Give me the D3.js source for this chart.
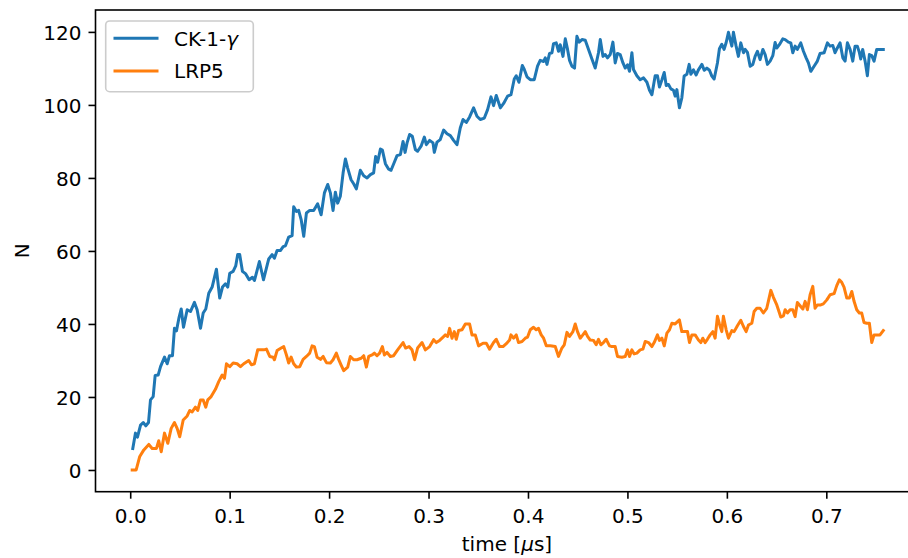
<!DOCTYPE html>
<html>
<head>
<meta charset="utf-8">
<script src="https://cdn.jsdelivr.net/npm/d3@7"></script>
<style>
  body { margin: 0; background: #fff; }
  svg { display: block; font-family: "DejaVu Sans", sans-serif; }
</style>
</head>
<body>
<svg id="chart" width="908" height="558"></svg>
<script>
// time [us] and N
const ckTime = [0.0026,0.0053,0.0073,0.0104,0.0131,0.0157,0.0184,0.0204,0.0231,0.0251,0.0281,0.0305,0.0345,0.0372,0.0395,0.0425,0.0445,0.0465,0.0492,0.0513,0.0536,0.0573,0.0606,0.0646,0.0673,0.0707,0.0734,0.076,0.079,0.0824,0.0867,0.09,0.0928,0.0958,0.0981,0.1001,0.1035,0.1061,0.1081,0.1101,0.1129,0.1162,0.1196,0.1229,0.1249,0.1276,0.1299,0.134,0.1393,0.1427,0.145,0.1477,0.151,0.1538,0.1561,0.1594,0.1628,0.1644,0.1671,0.1694,0.1719,0.1745,0.1772,0.1805,0.1845,0.1885,0.192,0.1953,0.1986,0.2013,0.204,0.2063,0.2086,0.2113,0.2141,0.2164,0.2187,0.2221,0.2247,0.2274,0.2314,0.2348,0.2382,0.2415,0.2448,0.2468,0.2488,0.2516,0.2536,0.2566,0.2599,0.2623,0.2656,0.2683,0.2717,0.2744,0.2764,0.2784,0.281,0.2837,0.2867,0.289,0.2925,0.2958,0.2978,0.3011,0.3045,0.3058,0.3085,0.3118,0.3152,0.3186,0.3219,0.3252,0.3286,0.3319,0.3347,0.338,0.3413,0.3453,0.3487,0.352,0.3561,0.3594,0.3628,0.3654,0.3681,0.3722,0.3755,0.3795,0.3829,0.3862,0.3882,0.3909,0.3943,0.3963,0.399,0.4023,0.4063,0.4096,0.4123,0.4157,0.4174,0.4191,0.4217,0.4241,0.4257,0.4284,0.4307,0.4324,0.4352,0.4375,0.4398,0.4418,0.4442,0.4468,0.4492,0.4515,0.4543,0.4576,0.4609,0.4643,0.4676,0.4709,0.4727,0.4754,0.4777,0.48,0.4827,0.4854,0.4877,0.49,0.4927,0.4955,0.4978,0.5001,0.5021,0.5045,0.5061,0.5095,0.5128,0.5162,0.5196,0.5222,0.5246,0.5279,0.5302,0.5322,0.5347,0.537,0.539,0.5413,0.5437,0.5463,0.548,0.5497,0.5523,0.5547,0.557,0.5598,0.5621,0.5638,0.5664,0.5691,0.5714,0.5749,0.5772,0.5799,0.5825,0.5849,0.5872,0.5905,0.5925,0.5949,0.5972,0.5993,0.6016,0.6033,0.605,0.6066,0.6093,0.6116,0.614,0.6167,0.6184,0.6207,0.6234,0.6261,0.6284,0.6307,0.6334,0.6362,0.6385,0.6408,0.6435,0.6462,0.6485,0.6502,0.6528,0.6563,0.6586,0.6619,0.6643,0.6663,0.6686,0.6709,0.6743,0.677,0.6797,0.682,0.6844,0.6877,0.691,0.6937,0.6978,0.7011,0.7038,0.7065,0.7088,0.7111,0.7138,0.7166,0.7189,0.7212,0.7239,0.7266,0.7289,0.7312,0.7332,0.7346,0.7366,0.739,0.7413,0.7433,0.7457,0.748,0.7507,0.754,0.7573];
const ckCount = [5.9,10.1,9.0,12.3,13,12.1,13,19.2,20.1,25.9,26,28.3,30.9,29.1,31.3,31.3,38.8,38.1,41.9,44.1,39.1,43.9,43.4,45.9,43.9,38.8,43,44.1,48.4,50.1,55,47.1,50.1,51,50.1,53.9,54.4,55.9,59,59,54.4,53.7,52.1,52.8,51.9,54.7,57.1,52.1,57.8,59,58,60.1,60.1,61.2,61.4,63.8,64.2,72.1,70.8,71.1,68.6,64,70.4,71.1,71.1,72.9,69.9,75.9,78.2,75.9,71.1,76.1,73.1,75,81.4,85.2,82.7,79.5,78.4,77,82.1,80.6,80,80.9,81.4,85.9,84.3,87.9,87.6,83.9,82.4,82.1,84.3,86.1,86.4,90,87,89.6,91.9,91.4,87.8,87.3,88.7,91.2,89.1,90.3,89.6,87,89.8,90.5,93.1,92.1,91.6,90.3,89.1,93.7,96,95.2,96.7,99.2,96.9,96,96.4,98.7,102.2,99.8,102.6,99.2,100.4,102.4,102.8,107.1,108,106.2,110.8,109.7,107.7,106.9,106.9,110.6,112.2,111.9,112.9,111.1,114.1,114.3,116.8,117,114.7,116.5,113.3,118.1,115.2,112.2,110.6,110.1,118.8,117.2,117.9,117.7,115.2,112.6,110.1,114.3,117.9,113.3,113.8,112.9,113.8,117.2,111.5,114.1,113.8,111.5,110.1,111,109.2,114.3,109.7,108,106.9,107.4,106.2,104,102.8,108,108,104.9,106.9,108.9,105.3,105.6,104.4,104,102.4,104.2,99.2,101.9,107.9,108.4,111.1,108.4,109.6,108.2,109.6,111.1,109.5,110.1,109.5,107.9,107.1,111.5,115.4,116.6,115.2,117.1,119.9,117.9,116.1,119.9,116.1,113.3,117,114.3,115.2,114.4,110.6,111.1,113.3,114.7,112.4,115.2,113.8,111.1,112,113.5,117.1,115.6,116.5,118.1,117.9,117.2,117,114.3,116.1,115.2,117,114.7,112.9,111.5,109.2,110.6,112,114.1,114.3,117,116.1,116.3,114.3,115.6,117,112.9,112,117,115.2,112,116.1,116.1,114.4,112.6,115.2,112,108,113.8,113.5,112,115.2,115.2,115.2];

const lrpTime = [0.002,0.006,0.0096,0.0137,0.0187,0.0221,0.0264,0.0287,0.0312,0.0345,0.0378,0.0412,0.0445,0.0472,0.0498,0.0533,0.0573,0.0599,0.0623,0.0656,0.0679,0.0707,0.0734,0.076,0.078,0.0814,0.0857,0.089,0.0925,0.0948,0.0968,0.1001,0.1035,0.1075,0.1109,0.1142,0.1192,0.1219,0.1249,0.1282,0.1343,0.137,0.1403,0.1437,0.145,0.1477,0.1518,0.1544,0.1571,0.1594,0.1618,0.1644,0.1671,0.1705,0.1739,0.1772,0.1805,0.1829,0.1852,0.1879,0.1913,0.194,0.1973,0.2013,0.204,0.2073,0.2096,0.212,0.2147,0.2187,0.2214,0.2247,0.2281,0.2322,0.2348,0.2375,0.2398,0.2432,0.2455,0.2482,0.2508,0.2536,0.2556,0.2583,0.2616,0.2649,0.2689,0.2744,0.277,0.2804,0.2834,0.286,0.289,0.2935,0.2968,0.3011,0.3051,0.3078,0.3111,0.3146,0.3169,0.3192,0.3212,0.3236,0.3259,0.3279,0.3302,0.3337,0.337,0.3413,0.3437,0.347,0.3503,0.3548,0.3581,0.3614,0.3654,0.3681,0.3715,0.3749,0.3782,0.3815,0.3829,0.3855,0.3882,0.3905,0.394,0.3973,0.3996,0.4023,0.4056,0.4083,0.4106,0.4133,0.4157,0.4184,0.4224,0.4274,0.4307,0.4341,0.4365,0.4392,0.4418,0.4452,0.4475,0.4498,0.4525,0.4552,0.4576,0.4599,0.4626,0.4659,0.4686,0.4709,0.4733,0.4759,0.4786,0.482,0.4844,0.4877,0.49,0.4944,0.4978,0.5001,0.5021,0.5045,0.5068,0.5095,0.5128,0.5156,0.5179,0.5212,0.5246,0.5269,0.5302,0.5322,0.5347,0.537,0.5397,0.5423,0.5447,0.548,0.5523,0.5547,0.558,0.5604,0.5624,0.5648,0.5681,0.5714,0.5738,0.5758,0.5781,0.5804,0.5832,0.5859,0.5882,0.5905,0.5925,0.5949,0.5965,0.5993,0.6016,0.605,0.6073,0.6106,0.614,0.6167,0.6194,0.6217,0.6251,0.6274,0.6301,0.6334,0.6367,0.6401,0.6417,0.6442,0.6468,0.6502,0.6518,0.6542,0.6569,0.6586,0.6609,0.6636,0.6663,0.6686,0.6709,0.6736,0.6764,0.6787,0.681,0.6837,0.6864,0.6887,0.691,0.6944,0.697,0.7005,0.7038,0.7078,0.7105,0.7131,0.7155,0.7178,0.7206,0.7232,0.7256,0.7279,0.7306,0.7332,0.7356,0.7379,0.7406,0.7433,0.7457,0.748,0.7513,0.754,0.7573];
const lrpCount = [0,0,3.7,5.5,7,5.9,5.9,8,5,10.1,7.3,11.4,13,11.4,9.1,13.7,14.8,16.3,15.9,17.2,16.3,19.2,19.2,17.2,19.2,20.1,22.1,24.2,26,25.1,29.1,28.3,29.3,29.1,28.3,29.1,30,28.8,29.1,32.9,32.9,33.1,31.1,30.9,30.2,32.7,33.4,33.8,31.5,29.3,30.9,29.1,28.2,28.3,30.3,31.1,32,34,33.8,30.9,30.3,31.1,29.4,29.3,30.2,32,30.3,28.8,27.2,28.2,31.1,30.2,30.2,30.6,31.3,28.2,31.1,31.5,32,31.3,32,33.8,31.5,32.2,31.1,31.3,32.9,34.9,33.4,33.8,32.9,30.2,33.4,34.9,32.9,33.8,35.7,34.9,35.5,36.4,37,36.6,38.8,36.1,37.9,35.8,38.2,38.4,40,40,37,37,34,34.7,34.7,33.1,34.9,35.8,33.8,33.8,34.6,35.6,37,36.1,37,34.9,35.2,36.1,36.4,38.4,39.1,38.4,38.8,37,36.1,34,34,33.8,31.1,33.4,34.3,37.7,36.6,37.9,40,37.9,36.1,37,37.9,36.6,35.6,35.5,34.3,35.8,34.3,34.9,35.8,34,33.8,33.8,31.1,30.9,31.1,32.9,31.1,32.9,31.8,32,32.9,33.1,35.2,34.9,33.8,34.9,37,35.5,36.1,34,37.5,38.4,40.2,40,41.1,37.9,37.9,37.9,34.9,37,37,35.6,34.9,36.1,34.9,35.8,37,37.9,36.1,42.1,40,37.9,42.1,38.4,36.1,38.2,37.9,39.5,41,39.3,37.9,39.7,40.2,43.4,44.3,44.3,43,44.3,46.2,49.2,47.3,45.2,43.9,41.9,42.2,43.9,43,43.9,43.9,42,45.9,45,44.1,46.2,43.9,48,50.3,44.3,45.2,45.2,45.5,46.6,48,48.3,50.5,52.1,51.4,50.1,47.1,47.1,48.9,46.2,43.9,43,43,40.4,40.2,40.2,34.9,37,37,37,38.2];

const xTicks = [0, 0.1, 0.2, 0.3, 0.4, 0.5, 0.6, 0.7];
const yTicks = [0, 20, 40, 60, 80, 100, 120];
const seriesNames = ['CK-1-γ', 'LRP5'];
const colors = ['#1f77b4', '#ff7f0e'];

const svg = d3.select('#chart');
const plotLeft = 95.5, plotTop = 10, plotBottom = 491.7, plotRight = 918.4;

const x = d3.scaleLinear().domain([-0.0349, 0.7926]).range([plotLeft, plotRight]);
const y = d3.scaleLinear().domain([-5.95, 126]).range([plotBottom, plotTop]);

const fontSize = 20;

// axes
const xAxis = svg.append('g')
  .attr('transform', `translate(0, ${plotBottom})`)
  .call(d3.axisBottom(x).tickValues(xTicks).tickFormat(d3.format('.1f')).tickSize(7).tickPadding(7));
const yAxis = svg.append('g')
  .attr('transform', `translate(${plotLeft}, 0)`)
  .call(d3.axisLeft(y).tickValues(yTicks).tickFormat(d3.format('d')).tickSize(7).tickPadding(7));

[xAxis, yAxis].forEach(a => {
  a.select('.domain').remove();
  a.selectAll('.tick line').attr('stroke', '#000').attr('stroke-width', 1.6);
  a.selectAll('.tick text')
    .attr('fill', '#000')
    .attr('font-size', fontSize)
    .attr('font-family', '"DejaVu Sans", sans-serif');
});
xAxis.selectAll('.tick text').attr('dy', null).attr('y', 523 - plotBottom);
yAxis.selectAll('.tick text').attr('dy', '0.36em');

// lines
const line = d3.line()
  .x(d => x(d[0]))
  .y(d => y(d[1]));

const ckData = ckTime.map((t, i) => [t, ckCount[i]]);
const lrpData = lrpTime.map((t, i) => [t, lrpCount[i]]);

svg.append('clipPath').attr('id', 'plot-clip')
  .append('rect')
  .attr('x', plotLeft).attr('y', plotTop)
  .attr('width', plotRight - plotLeft).attr('height', plotBottom - plotTop);

const plot = svg.append('g').attr('clip-path', 'url(#plot-clip)');

[ckData, lrpData].forEach((data, i) => {
  plot.append('path')
    .datum(data)
    .attr('d', line)
    .attr('fill', 'none')
    .attr('stroke', colors[i])
    .attr('stroke-width', 3)
    .attr('stroke-linejoin', 'round')
    .attr('stroke-linecap', 'square');
});

// frame
svg.append('rect')
  .attr('x', plotLeft)
  .attr('y', plotTop)
  .attr('width', plotRight - plotLeft)
  .attr('height', plotBottom - plotTop)
  .attr('fill', 'none')
  .attr('stroke', '#000')
  .attr('stroke-width', 1.6);

// axis labels
svg.append('text')
  .attr('x', (plotLeft + plotRight) / 2)
  .attr('y', 551)
  .attr('text-anchor', 'middle')
  .attr('font-size', fontSize)
  .html('time [<tspan font-style="italic">μ</tspan>s]');

svg.append('text')
  .attr('transform', `translate(28.5, ${(plotTop + plotBottom) / 2}) rotate(-90)`)
  .attr('text-anchor', 'middle')
  .attr('font-size', fontSize)
  .text('N');

// legend
const legend = svg.append('g');
legend.append('rect')
  .attr('x', 105.7)
  .attr('y', 21)
  .attr('width', 147.6)
  .attr('height', 70.7)
  .attr('rx', 4)
  .attr('fill', '#fff')
  .attr('fill-opacity', 0.8)
  .attr('stroke', '#cccccc')
  .attr('stroke-width', 1.6);

seriesNames.forEach((name, i) => {
  const ly = 38.3 + i * 32.7;
  legend.append('line')
    .attr('x1', 115)
    .attr('x2', 157)
    .attr('y1', ly)
    .attr('y2', ly)
    .attr('stroke', colors[i])
    .attr('stroke-width', 3)
    .attr('stroke-linecap', 'square');
  const t = legend.append('text')
    .attr('x', 174)
    .attr('y', ly + 7.3)
    .attr('font-size', fontSize);
  if (name.endsWith('γ')) {
    t.append('tspan').text(name.slice(0, -1));
    t.append('tspan').attr('font-style', 'italic').text('γ');
  } else {
    t.text(name);
  }
});
</script>
</body>
</html>
